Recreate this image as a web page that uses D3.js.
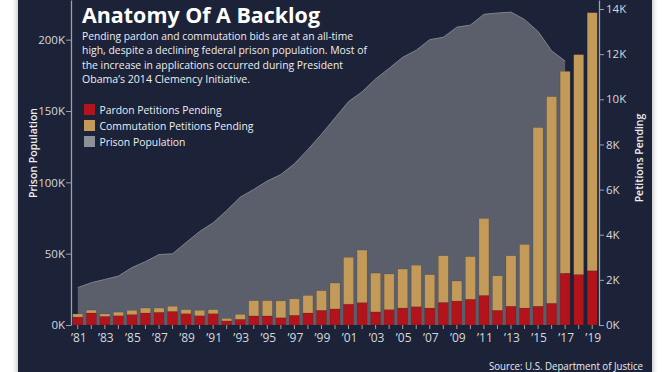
<!DOCTYPE html>
<html><head><meta charset="utf-8">
<script src="https://cdn.jsdelivr.net/npm/d3@7/dist/d3.min.js"></script>
<style>
html,body{margin:0;padding:0;background:#fff;}
svg{display:block;font-family:"Open Sans","Lato",sans-serif;}
</style></head><body>
<svg id="chart" width="672" height="372"></svg>
<script>
// ---------- data ----------
const years = [1981,1982,1983,1984,1985,1986,1987,1988,1989,1990,1991,1992,1993,1994,1995,1996,1997,1998,1999,2000,
  2001,2002,2003,2004,2005,2006,2007,2008,2009,2010,2011,2012,2013,2014,2015,2016,2017,2018,2019];
const pardonPending = [350,530,380,410,460,530,560,600,500,410,500,180,250,400,400,320,430,530,650,710,
  920,990,580,680,750,810,750,1000,1060,1140,1310,650,830,750,830,960,2290,2230,2400];
const commutationPending = [140,130,110,160,190,220,190,230,180,240,180,110,220,680,680,750,730,780,870,1150,
  2080,2330,1720,1580,1730,1840,1480,2070,890,1890,3410,1530,2240,2820,7920,9160,8950,9750,11440];
const prisonYears = [1981,1982,1983,1984,1985,1986,1987,1988,1989,1990,1991,1992,1993,1994,1995,1996,1997,1998,1999,2000,
  2001,2002,2003,2004,2005,2006,2007,2008,2009,2010,2011,2012,2013,2014,2015,2016,2017];
const prisonPopulation = [26195,29673,31926,34263,40223,44408,49378,49928,57762,65526,71608,80259,89586,95034,100958,105443,112973,123041,133689,145125,
  156572,163436,172499,179895,187618,192584,200020,201668,208759,210227,217768,218687,219298,214149,205723,192170,185000];
const leftTicks = [0,50000,100000,150000,200000];
const rightTicks = [0,2000,4000,6000,8000,10000,12000,14000];
const labelYears = [1981,1983,1985,1987,1989,1991,1993,1995,1997,1999,2001,2003,2005,2007,2009,2011,2013,2015,2017,2019];
const seriesNames = ["Pardon Petitions Pending","Commutation Petitions Pending","Prison Population"];
const titleText = "Anatomy Of A Backlog";
const subtitleLines = [
  "Pending pardon and commutation bids are at an all-time",
  "high, despite a declining federal prison population. Most of",
  "the increase in applications occurred during President",
  "Obama\u2019s 2014 Clemency Initiative."];
const sourceText = "Source: U.S. Department of Justice";

// ---------- styles ----------
const C = {bg:"#1b2337", area:"#5b5f6b", areaLine:"#7f838d", red:"#b3141c", tan:"#c39a58",
  axis:"#9da1aa", text:"#eceef1", tick:"#d6d8dd"};

const svg = d3.select("#chart");
const defs = svg.append("defs");
const f = defs.append("filter").attr("id","sh").attr("x","-10%").attr("y","-10%").attr("width","120%").attr("height","120%");
f.append("feDropShadow").attr("dx",0).attr("dy",0).attr("stdDeviation",3).attr("flood-color","#000").attr("flood-opacity",0.35);

svg.append("rect").attr("x",18).attr("y",-10).attr("width",634).attr("height",392)
  .attr("fill",C.bg).attr("filter","url(#sh)");

const baseY = 325;
const x = d3.scaleBand().domain(years).range([71,599]).paddingInner(0.26).paddingOuter(0.13);
const yL = d3.scaleLinear().domain([0,227800]).range([baseY,0]);
const yR = d3.scaleLinear().domain([0,14400]).range([baseY,0]);
const cx = d => x(d) + x.bandwidth()/2;

// area
const area = d3.area().x((d,i)=>cx(prisonYears[i])).y0(baseY).y1(d=>yL(d)).curve(d3.curveLinear);
svg.append("path").datum(prisonPopulation).attr("d",area).attr("fill",C.area);
const line = d3.line().x((d,i)=>cx(prisonYears[i])).y(d=>yL(d));
svg.append("path").datum(prisonPopulation).attr("d",line).attr("fill","none")
  .attr("stroke",C.areaLine).attr("stroke-width",1);

// stacked bars
const rows = years.map((y,i)=>({year:y, pardon:pardonPending[i], commutation:commutationPending[i]}));
const stack = d3.stack().keys(["pardon","commutation"])(rows);
const colors = {pardon:C.red, commutation:C.tan};
svg.append("g").selectAll("g").data(stack).join("g").attr("fill",s=>colors[s.key])
  .selectAll("rect").data(s=>s).join("rect")
  .attr("x",d=>x(d.data.year)).attr("width",x.bandwidth())
  .attr("y",d=>yR(d[1])).attr("height",d=>yR(d[0])-yR(d[1]))
  .attr("stroke","rgba(0,0,0,0.18)").attr("stroke-width",0.6);

// axes
const axL = d3.axisLeft(yL).tickValues(leftTicks).tickSize(5).tickSizeOuter(0)
  .tickFormat(d=>(d/1000)+"K");
const gL = svg.append("g").attr("transform","translate(71,0)").call(axL);
const axR = d3.axisRight(yR).tickValues(rightTicks).tickSize(5).tickSizeOuter(0)
  .tickFormat(d=>(d/1000)+"K");
const gR = svg.append("g").attr("transform","translate(599,0)").call(axR);
const axB = d3.axisBottom(x).tickSize(4).tickSizeOuter(0).tickFormat("");
const gB = svg.append("g").attr("transform",`translate(0,${baseY})`).call(axB);
gB.select(".domain").remove();
[gL,gR,gB].forEach(g=>{
  g.selectAll(".domain").attr("stroke",C.axis).attr("stroke-width",1.3);
  g.selectAll(".tick line").attr("stroke",C.axis);
  g.selectAll("text").attr("fill",C.tick).attr("font-size",11.5).attr("font-weight",500)
    .attr("font-family","'Open Sans',sans-serif");
});
gL.selectAll(".tick text").attr("x",-6);
gR.selectAll(".tick text").attr("x",7);

svg.append("g").selectAll("text").data(labelYears).join("text")
  .attr("x",d=>cx(d)+1).attr("y",341.5).attr("text-anchor","middle")
  .attr("fill",C.tick).attr("font-size",12).attr("font-weight",500)
  .text(d=>"\u2019"+String(d).slice(2));

// axis titles
svg.append("text").attr("transform","translate(37,153) rotate(-90)").attr("text-anchor","middle")
  .attr("fill",C.text).attr("font-size",10.5).attr("font-weight",600).text("Prison Population");
svg.append("text").attr("transform","translate(643,158) rotate(-90)").attr("text-anchor","middle")
  .attr("fill",C.text).attr("font-size",10.5).attr("font-weight",600).text("Petitions Pending");

// title and subtitle
svg.append("text").attr("x",82).attr("y",22.5).attr("fill","#fff").attr("font-size",21).attr("font-weight",700)
  .attr("textLength",238).attr("lengthAdjust","spacingAndGlyphs").text(titleText);
const subW = [271,285,261,168];
svg.append("g").selectAll("text").data(subtitleLines).join("text")
  .attr("x",82).attr("y",(d,i)=>39.5+i*14.6).attr("fill",C.text).attr("font-size",11.5).attr("font-weight",500)
  .attr("textLength",(d,i)=>subW[i]).attr("lengthAdjust","spacingAndGlyphs").text(d=>d);

// legend
const legColors = [C.red,C.tan,"#8e9098"];
const legW = [122,154,86];
const lg = svg.append("g").selectAll("g").data(seriesNames).join("g")
  .attr("transform",(d,i)=>`translate(84,${104+i*16})`);
lg.append("rect").attr("width",11).attr("height",11).attr("fill",(d,i)=>legColors[i]);
lg.append("text").attr("x",15.5).attr("y",10).attr("fill",C.text).attr("font-size",11.5).attr("font-weight",500)
  .attr("textLength",(d,i)=>legW[i]).attr("lengthAdjust","spacingAndGlyphs").text(d=>d);

// source
svg.append("text").attr("x",643).attr("y",369.5).attr("text-anchor","end").attr("fill",C.text)
  .attr("font-size",11.5).attr("font-weight",500)
  .attr("textLength",154).attr("lengthAdjust","spacingAndGlyphs").text(sourceText);
</script>
</body></html>
